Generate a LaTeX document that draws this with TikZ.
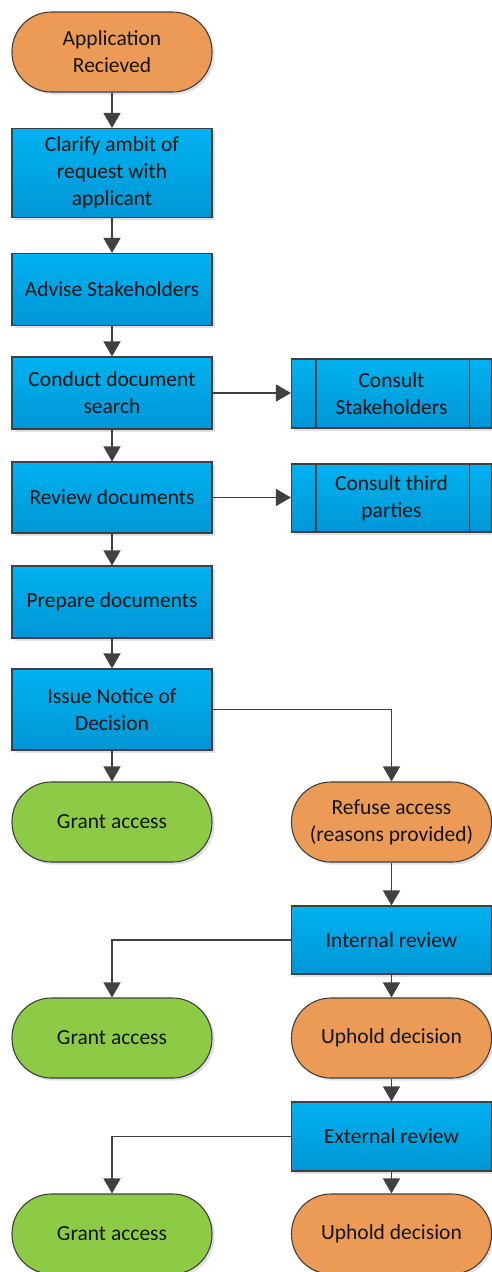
\documentclass[tikz,border=0pt]{standalone}
\usepackage{fontspec}
\setmainfont{Carlito}
\usetikzlibrary{arrows.meta,shadows}
\definecolor{bluetop}{RGB}{0,178,240}
\definecolor{bluebot}{RGB}{0,150,214}
\definecolor{orangef}{RGB}{235,155,86}
\definecolor{greenf}{RGB}{141,203,70}
\definecolor{edgec}{RGB}{64,64,64}
\definecolor{txt}{RGB}{20,20,20}
\begin{document}
\begin{tikzpicture}[x=1pt,y=-1pt,
  base/.style={draw=edgec, line width=1.1pt, minimum width=200pt, align=center,
    font=\fontsize{21.5}{27}\selectfont, text=txt, inner sep=2pt,
    drop shadow={shadow xshift=2.5pt, shadow yshift=-2.5pt, fill=black, opacity=0.12}},
  procbox/.style={base, rectangle, top color=bluetop, bottom color=bluebot},
  termbox/.style={base, rectangle, rounded corners=39.5pt, minimum height=80pt},
  orangebox/.style={termbox, fill=orangef},
  greenbox/.style={termbox, fill=greenf},
  subbox/.style={procbox},
  conn/.style={draw=edgec, line width=1.4pt, -{Triangle[length=15pt,width=17pt]}},
  plain/.style={draw=edgec, line width=1.4pt}
]
\useasboundingbox (0,0) rectangle (492,1272);
\fill[white] (0,0) rectangle (492,1272);

\node[orangebox] (app) at (112,52) {Application\\Recieved};
\node[procbox, minimum height=89pt] (clar) at (112,173) {Clarify ambit of\\request with\\applicant};
\node[procbox, minimum height=72pt] (adv) at (112,289.5) {Advise Stakeholders};
\node[procbox, minimum height=72pt] (cond) at (112,393) {Conduct document\\search};
\node[procbox, minimum height=71pt] (rev) at (112,497.5) {Review documents};
\node[procbox, minimum height=72pt] (prep) at (112,602) {Prepare documents};
\node[procbox, minimum height=81pt] (issue) at (112,709.5) {Issue Notice of\\Decision};
\node[subbox, minimum height=69pt] (cons1) at (391.5,393.5) {Consult\\Stakeholders};
\node[subbox, minimum height=68pt] (cons2) at (391.5,498) {Consult third\\parties};
\draw[edgec, line width=1.1pt] ([xshift=25pt]cons1.north west) -- ([xshift=25pt]cons1.south west)
  ([xshift=-23pt]cons1.north east) -- ([xshift=-23pt]cons1.south east);
\draw[edgec, line width=1.1pt] ([xshift=25pt]cons2.north west) -- ([xshift=25pt]cons2.south west)
  ([xshift=-23pt]cons2.north east) -- ([xshift=-23pt]cons2.south east);
\node[greenbox] (grant1) at (112,822) {Grant access};
\node[orangebox] (refuse) at (391.5,822) {Refuse access\\(reasons provided)};
\node[procbox, minimum height=68pt] (internal) at (391.5,940) {Internal review};
\node[greenbox] (grant2) at (112,1038) {Grant access};
\node[orangebox] (uphold1) at (391.5,1038) {Uphold decision};
\node[procbox, minimum height=69pt] (external) at (391.5,1136.5) {External review};
\node[greenbox] (grant3) at (112,1234) {Grant access};
\node[orangebox] (uphold2) at (391.5,1234) {Uphold decision};

\draw[conn] (app) -- (clar);
\draw[conn] (clar) -- (adv);
\draw[conn] (adv) -- (cond);
\draw[conn] (cond) -- (rev);
\draw[conn] (rev) -- (prep);
\draw[conn] (prep) -- (issue);
\draw[conn] (issue) -- (grant1);
\draw[conn] (cond.east) -- (cond.east -| cons1.west);
\draw[conn] (rev.east) -- (rev.east -| cons2.west);
\draw[conn] (issue.east) -| (refuse.north);
\draw[conn] (refuse) -- (internal);
\draw[conn] (internal.west) -| (grant2.north);
\draw[conn] (internal) -- (uphold1);
\draw[conn] (uphold1) -- (external);
\draw[conn] (external.west) -| (grant3.north);
\draw[conn] (external) -- (uphold2);
\end{tikzpicture}
\end{document}
